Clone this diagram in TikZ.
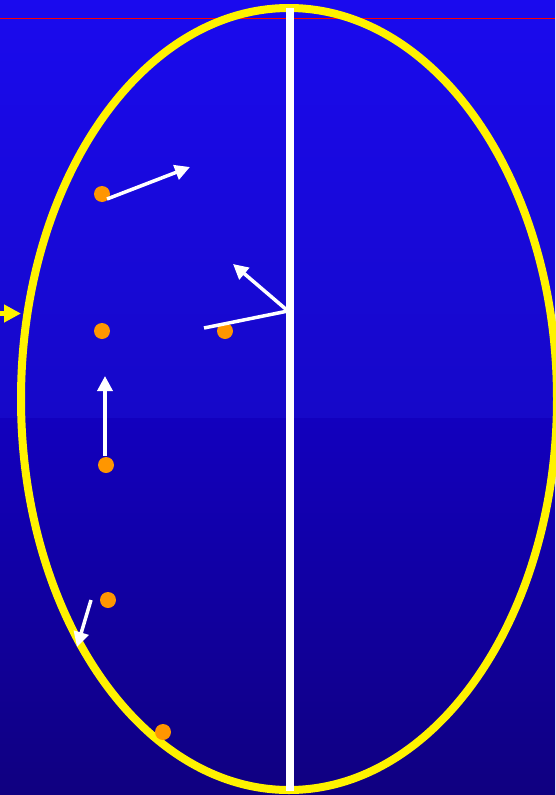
\documentclass[tikz,border=0pt]{standalone}
\usetikzlibrary{arrows.meta}

\definecolor{bgtop}{RGB}{26,10,238}
\definecolor{bgmid}{RGB}{22,8,200}
\definecolor{bgmid2}{RGB}{18,0,190}
\definecolor{bgbot}{RGB}{16,0,128}
\definecolor{ballorange}{RGB}{255,150,0}

\tikzset{
  ball/.style={circle, fill=ballorange, inner sep=0pt, minimum size=16pt},
  vec/.style={white, line width=3.5pt, -{Triangle[length=15pt,width=15pt]}},
}

\begin{document}
\begin{tikzpicture}[x=1pt, y=-1pt]

  % Achtergrond
  \shade[top color=bgtop, bottom color=bgmid] (0,0) rectangle (555,418);
  \shade[top color=bgmid2, bottom color=bgbot] (0,418) rectangle (555,795);
  \useasboundingbox (0,0) rectangle (555,795);

  % Rode lijn bovenaan
  \draw[red, line width=1.5pt] (0,18.5) -- (555,18.5);

  % Ellips en as
  \draw[yellow, line width=8pt] (289,399) ellipse (268 and 391);
  \coordinate (astop) at (290,8);
  \coordinate (asbot) at (290,791);
  \draw[white, line width=7.5pt] (astop) -- (asbot);

  % Gele pijl links
  \coordinate (ystart) at (-2,313.5);
  \coordinate (ytip) at (21,313.5);
  \draw[yellow, line width=5pt, -{Triangle[length=17pt,width=17pt]}] (ystart) -- (ytip);

  % Deeltjes
  \node[ball] (b1) at (102,194) {};
  \node[ball] (b2) at (102,331) {};
  \node[ball] (b3) at (225,331) {};
  \node[ball] (b4) at (106,465) {};
  \node[ball] (b5) at (108,600) {};
  \node[ball] (b6) at (163,732) {};

  % Snelheden
  \coordinate (v1s) at (107,199);
  \coordinate (v1e) at (190,167);
  \draw[vec] (v1s) -- (v1e);

  \coordinate (v4s) at (105,456);
  \coordinate (v4e) at (105,376);
  \draw[vec] (v4s) -- (v4e);

  \coordinate (v5s) at (91,600);
  \coordinate (v5e) at (77,647);
  \draw[vec] (v5s) -- (v5e);

  % Draaipunt op de as
  \coordinate (piv) at (288,311);
  \coordinate (pivtip) at (233,264);
  \coordinate (pivend) at (204,328);
  \draw[vec] (piv) -- (pivtip);
  \draw[white, line width=3.5pt] (piv) -- (pivend);

\end{tikzpicture}
\end{document}
